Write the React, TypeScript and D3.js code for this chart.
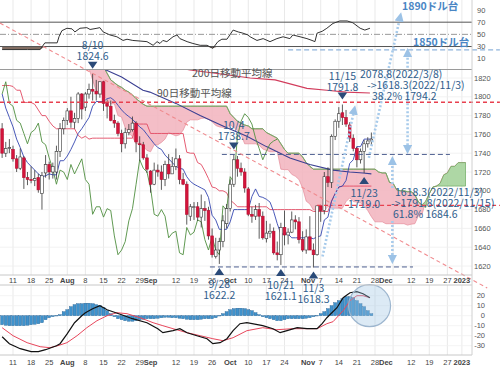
import React from "react";
import * as d3 from "d3";

// trading-day index: 0 = 2022-07-11 (Mon); first bar = idx -3 (2022-07-06)
const FIRST_IDX = -3;

const openP = [1766,1740,1745,1744,1734,1724,1735,1714,1712,1711,1714,1697,1719,1728,1720,1720,1742,1766,1775,1785,1773,1777,1803,1789,1803,1808,1806,1803,1816,1793,1790,1775,1772,1761,1750,1762,1765,1772,1750,1749,1735,1721,1707,1722,1720,1712,1728,1718,1726,1734,1712,1707,1673,1683,1683,1672,1681,1679,1652,1630,1637,1646,1665,1681,1707,1733,1724,1720,1702,1675,1673,1680,1673,1649,1655,1657,1634,1632,1661,1653,1656,1669,1667,1648,1637,1651,1637,1632,1684,1679,1715,1709,1758,1774,1783,1778,1770,1756,1745,1733,1742,1750,1753];
const highP = [1772,1752,1755,1748,1738,1745,1737,1720,1726,1722,1718,1720,1738,1731,1730,1748,1772,1778,1788,1800,1783,1805,1804,1805,1814,1824.6,1818,1816,1817,1797,1796,1781,1774,1765,1767,1771,1779,1774,1758,1752,1739,1722,1730,1728,1727,1732,1739,1736,1745,1738,1719,1710,1686,1688,1688,1696,1689,1683,1660,1650,1650,1674,1686,1712,1738.7,1737,1730,1724,1704,1683,1685,1687,1678,1668,1665,1661,1646,1666,1679,1660,1678,1674,1672,1657,1659,1673,1644,1684,1685,1720,1725,1760,1776,1789,1791.8,1786,1773,1760,1747,1745,1754,1757,1762];
const lowP = [1735,1736,1740,1731,1720,1722,1702,1706,1708,1705,1698,1680,1714,1712,1713,1712,1736,1760,1770,1767,1766,1772,1776,1785,1798,1796,1796,1799,1785,1777,1774,1767,1758,1741,1745,1759,1763,1741,1732,1733,1719,1698,1706,1715,1701,1705,1713,1718,1722,1707,1706,1664,1668,1669,1668,1661,1668,1648,1629,1628,1622.2,1640,1660,1678,1704,1715,1716,1698,1673,1666,1669,1649,1648,1645,1650,1632,1626,1621.1,1642,1643,1655,1659,1644,1635,1633,1638,1618.3,1631,1667,1675,1704,1703,1754,1767,1770,1768,1752,1742,1725,1729,1719,1746,1748];
const closeP = [1740,1745,1746,1734,1724,1736,1714,1712,1711,1713,1701,1716,1728,1720,1726,1742,1766,1775,1785,1773,1777,1803,1787,1803,1808,1806,1803,1816,1793,1790,1775,1772,1761,1750,1762,1765,1772,1752,1749,1735,1723,1707,1722,1720,1712,1728,1718,1726,1734,1712,1707,1675,1683,1683,1672,1681,1679,1652,1632,1637,1646,1668,1681,1707,1733,1724,1720,1703,1675,1673,1680,1673,1650,1655,1657,1634,1632,1661,1653,1656,1669,1667,1648,1637,1651,1637,1632,1684,1679,1715,1709,1758,1774,1782,1778,1771,1756,1745,1733,1742,1750,1753,1755];

// Ichimoku lines (daily, idx -3..99)
const tenkan = [1803,1788,1778,1768,1755,1746,1736,1730,1726,1722,1718,1715,1716,1718,1717,1717,1732,1732,1737,1744,1752,1761,1766,1772,1778,1790,1795,1795,1795,1798,1799,1796,1791,1786,1782,1779,1776,1772,1768,1765,1760,1755,1750,1746,1744,1738,1734,1730,1726,1724,1723,1715,1710,1707,1705,1703,1701,1693,1674,1669,1659,1659,1659,1667,1680,1680,1680,1680,1680,1694,1702,1694,1693,1691,1688,1678,1665,1654,1654,1654,1650,1650,1650,1650,1650,1650,1649,1651,1652,1669,1672,1689,1697,1704,1705,1711,1729,1733,1747,1747,1755,1755,1755];
const kijun = [1812,1812,1812,1811,1807,1807,1794,1794,1794,1792,1786,1780,1780,1774,1769,1766,1766,1766,1766,1766,1766,1759,1756,1758,1755,1756,1756,1756,1756,1756,1756,1756,1756,1756,1756,1756,1756,1771,1771,1771,1771,1761,1761,1761,1761,1761,1761,1761,1761,1761,1761,1741,1740,1740,1730,1728,1721,1713,1704,1703,1700,1700,1698,1690,1687,1683,1683,1683,1683,1683,1683,1683,1683,1683,1680,1680,1680,1680,1680,1680,1680,1680,1680,1680,1680,1680,1678,1678,1678,1678,1678,1689,1697,1704,1705,1705,1705,1705,1705,1705,1705,1705,1705];

// leading spans (idx 20..125)
const SPAN_FIRST = 20;
const spanA = [1834,1830,1818,1806,1803.5,1801,1797,1792.5,1792.5,1780,1778.5,1767,1761.5,1757.5,1750,1750,1747,1743,1741.5,1749,1749,1751.5,1755,1762.5,1760,1758.5,1759.5,1764.5,1773,1775.5,1775.5,1775.5,1777,1777.5,1776,1773.5,1769.5,1768,1767.5,1767.5,1770,1767.5,1764,1760,1750,1750,1750,1750,1748.5,1744.5,1743,1741.5,1741.5,1742,1723,1722.5,1722.5,1717.5,1715.5,1712,1703,1689,1686,1679.5,1679.5,1678.5,1678.5,1683.5,1681.5,1681.5,1681.5,1681.5,1688.5,1692.5,1688.5,1688,1687,1684,1679,1672.5,1667,1667,1667,1665,1665,1665,1665,1665,1665,1663.5,1664.5,1665,1673.5,1675,1689,1697,1704,1705,1708,1717,1719,1726,1726,1730,1730,1730];
const spanB = [1880,1870,1860,1850,1840,1832,1825,1818,1815,1812,1810,1807,1805,1802,1798,1795,1792,1790,1790,1790,1790,1790,1790,1790,1790,1790,1790,1790,1790,1790,1790,1790,1790,1790,1790,1790,1790,1790,1790,1790,1782,1778,1774,1772,1770,1769,1766,1766,1766,1766,1762,1760,1758,1756,1750,1744,1740,1740,1740,1740,1736,1730,1726,1723,1723,1723,1723,1723,1723,1723,1723,1723,1723,1723,1723,1723,1723,1723,1723,1723,1723,1720,1719,1719,1709,1708,1701,1700,1700,1699,1699,1696,1688,1685,1682,1697,1704,1705,1705,1705,1705,1705,1705,1705,1705,1705];
const CHIKOU_SHIFT = 26;

// moving averages read at points
const ma90Idx = [-3, 10, 20, 25.7, 30, 35.9, 37.8, 45, 51.7, 58, 64.6, 70, 76.5, 82, 88.4, 93, 96.7, 99];
const ma90Val = [1878, 1856, 1840, 1828.5, 1821, 1807, 1805, 1793, 1780, 1769, 1758, 1747, 1735, 1728, 1722, 1720, 1719, 1718];
const ma200Idx = [-3, 20, 40, 48.9, 58, 65.5, 72.4, 81.2, 86.7, 92, 98.6];
const ma200Val = [1862, 1848, 1835, 1828.5, 1824, 1820, 1818, 1809, 1807, 1805, 1804];

// RSI
const rsiIdx = [-3,0,4,7.5,8.8,12.2,12.7,13.5,14.9,16.3,17.1,18.5,20.4,21.3,23.2,24,24.9,26.8,28.7,30.4,31.5,33.1,35.1,37,38.7,39.8,40.6,41.4,42.5,44.2,45.3,46.1,48.1,49.7,51.7,53.6,55.2,56.6,57.7,59.1,60.8,62.2,63.5,64.9,65.5,67.4,69.1,71,72.9,74.6,76.5,77.3,79.3,81.2,82.6,83.4,84,85.4,86.7,88.4,90.3,92.3,93.9,95.9,97.2,98.6];
const rsiVal = [25,25,25,25,36,36,46,56,60,59,54,60,61,58,60,61,54,49,46,40,42,40,39,38,32,38,35,40,38,46,49,43,38,35,32,32,27,38,42,42,57,54,52,49,46,40,43,38,43,46,43,49,46,43,40,38,52,55,60,68,72,72,69,60,57,60];

// MACD
const macdIdx = [-3,-1,2,5,7,9,12,13,15,17,19,20,22,24,26,30,33,37,40,41.4,44.2,46.1,48.1,50.8,53.6,55.2,57.2,59.1,60.8,62.7,64.6,69,71.8,73.8,75.7,78.5,81.2,84,85.4,86.7,89.5,91.2,93.1,95,96.7,98.6];
const macdVal = [-21,-28,-33,-36,-36,-34,-30,-28,-18,-7,0,3,7,10,6,1,-3,-7,-13,-17,-15,-13,-17,-20,-23,-28,-27,-23,-15,-8,-7,-10,-13,-17,-15,-12,-13,-13,-8,-2,8,18,23,24,22,18];
const sigIdx = [-3,0,3.9,7.5,10.2,12.4,14.9,17.7,20.4,23.2,26,28.7,31.5,35.1,38.7,41.4,44.2,48.1,51.7,55.2,58,60.8,64.6,69,72.9,77.3,84,86.7,88.4,91.2,93.1,95,96.7,98.6];
const sigVal = [-12,-20,-27,-31,-32,-30,-27,-20,-12,-5,0,3,2,-2,-7,-10,-13,-17,-20,-23,-25,-22,-15,-12,-14,-13,-13,-8,-6,5,15,20,20,18];
const histVal = [-9,-9.5,-10,-10,-10,-10,-10,-9.5,-9,-8.5,-8,-7,-4,-2,-1,0,1,4,6,9,11,12,12,12.5,12.5,12,11,10,8,5,2,-1,-3,-4,-5,-5.5,-5.5,-5,-4,-3.5,-3,-3,-3,-2.5,-2,-1.5,-1.5,-2,-2,-2.5,-3,-3.5,-4,-4,-4,-3.5,-3,-3,-3,-2,0,2,4,6,7,7.5,7.5,7,6,5,3,1,-1,-2,-3,-4,-5,-5,-4,-3,-3,-3,-3,-3,-2.5,-2,-1,0,2,4,7,10,13,15,17,19,19,18,15,12,9,5,2];

// axis
const tickIdx = [0,5,10,15,20,25,30,35,38,45,50,55,60,65,70,75,81.5,85,90,95,100,103,110,115,120,124];
const tickLabels = ["11","18","25","Aug","8","15","22","29","Sep","12","19","26","Oct","10","17","24","Nov","7","14","21","28","Dec","12","19","27","2023"];
const tickBold = [false,false,false,true,false,false,false,false,true,false,false,false,true,false,false,false,true,false,false,false,false,true,false,false,false,true];
const gridIdx = [0,5,10,15,20,25,30,35,40,45,50,55,60,65,70,75,80,85,90,95,100,105,110,115,120,124];
const priceTicks = [1620,1640,1660,1680,1700,1720,1740,1760,1780,1800,1820];
const rsiTicks = [90,70,50,30,10];
const macdTicks = [20,10,0,-10,-20,-30];

// annotations
const highMarks = [
  { idx: 22, price: 1824.6, l1: "8/10", l2: "1824.6" },
  { idx: 61, price: 1738.7, l1: "10/4", l2: "1738.7" },
  { idx: 91, price: 1791.8, l1: "11/15", l2: "1791.8" },
];
const lowMarks = [
  { idx: 57, price: 1622.2, l1: "9/28", l2: "1622.2" },
  { idx: 74, price: 1621.1, l1: "10/21", l2: "1621.1" },
  { idx: 83, price: 1618.3, l1: "11/3", l2: "1618.3" },
  { idx: 97, price: 1719.0, l1: "11/23", l2: "1719.0" },
];
const levelLines = [
  { price: 1794.2, from: -3.6, to: 134.5, color: "#e8404f", dash: "4,3", w: 1.3 },
  { price: 1684.6, from: 84, to: 134.5, color: "#e8404f", dash: "4,3", w: 1.3 },
  { price: 1738.7, from: 57.7, to: 120.7, color: "#4d5f8f", dash: "5,3", w: 1 },
  { price: 1619.0, from: 54.4, to: 110.5, color: "#4d5f8f", dash: "5,3", w: 1 },
  { price: 1850, from: 76, to: 134.5, color: "#8fb4dc", dash: "5,3", w: 1.2 },
];
const trendFrom = [-3.6, 1878.5];
const trendTo = [131, 1596.6];
const arrows = [
  { from: [98.3, 1735], to: [107, 1886] },
  { from: [109, 1831], to: [109, 1848] },
  { from: [109, 1806], to: [109, 1743] },
  { from: [85.5, 1630], to: [94.3, 1787] },
  { from: [104.8, 1703], to: [104.8, 1733] },
  { from: [104.8, 1668], to: [104.8, 1626] },
];

const fontAxis = "'Liberation Sans', Arial, sans-serif";
const fontJP = "'Noto Sans CJK JP', 'Noto Sans', sans-serif";
const annColor = "#2f5d8c";

export default function App() {
  const xs = d3.scaleLinear().domain([0, 100]).range([13, 375]);
  const yP = d3.scaleLinear().domain([1620, 1820]).range([266, 78]);
  const yR = d3.scaleLinear().domain([10, 90]).range([58.7, 10]);
  const yM = d3.scaleLinear().domain([-30, 20]).range([345.7, 295.7]);

  const PR = 472;
  const main = { top: 69.5, bottom: 275 };
  const macdP = { top: 285, bottom: 355 };

  const lineP = d3.line<[number, number]>().x((d) => xs(d[0])).y((d) => yP(d[1]));
  const lineR = d3.line<[number, number]>().x((d) => xs(d[0])).y((d) => yR(d[1]));
  const lineM = d3.line<[number, number]>().x((d) => xs(d[0])).y((d) => yM(d[1]));

  const candles = openP.map((o, k) => ({ i: FIRST_IDX + k, o, h: highP[k], l: lowP[k], c: closeP[k] }));
  const spans = spanA.map((a, k) => ({ i: SPAN_FIRST + k, a, b: spanB[k] }));

  const pinkArea = d3.area<{ i: number; a: number; b: number }>()
    .x((d) => xs(d.i)).y0((d) => yP(d.a)).y1((d) => yP(Math.max(d.a, d.b)));
  const greenArea = d3.area<{ i: number; a: number; b: number }>()
    .x((d) => xs(d.i)).y0((d) => yP(d.b)).y1((d) => yP(Math.max(d.a, d.b)));

  const tenkanPts = tenkan.map((v, k) => [FIRST_IDX + k, v] as [number, number]);
  const kijunPts = kijun.map((v, k) => [FIRST_IDX + k, v] as [number, number]);
  const chikouPts = closeP
    .map((v, k) => [FIRST_IDX + k - CHIKOU_SHIFT, v] as [number, number])
    .filter((d) => d[0] >= FIRST_IDX);
  const ma90Pts = ma90Idx.map((v, k) => [v, ma90Val[k]] as [number, number]);
  const ma200Pts = ma200Idx.map((v, k) => [v, ma200Val[k]] as [number, number]);
  const rsiPts = rsiIdx.map((v, k) => [v, rsiVal[k]] as [number, number]);
  const macdPts = macdIdx.map((v, k) => [v, macdVal[k]] as [number, number]);
  const sigPts = sigIdx.map((v, k) => [v, sigVal[k]] as [number, number]);

  const rsiFill = d3.area<[number, number]>()
    .x((d) => xs(d[0])).y0(() => yR(30)).y1((d) => yR(Math.min(30, d[1])));

  const xAxisLabels = (y: number, keyp: string) =>
    tickIdx.map((t, k) => (
      <text key={keyp + k} x={xs(t)} y={y} fontSize={7.5} fontFamily={fontAxis}
        fontWeight={tickBold[k] ? "bold" : "normal"} fill="#444" textAnchor="middle">
        {tickLabels[k]}
      </text>
    ));

  return (
    <div style={{ position: "absolute", left: 0, top: 0 }}>
      <svg width={500} height={368} viewBox="0 0 500 368" style={{ display: "block", background: "#fff" }}>
        <defs>
          <clipPath id="cMain"><rect x={0} y={main.top} width={PR} height={main.bottom - main.top} /></clipPath>
          <clipPath id="cRsi"><rect x={0} y={0} width={PR} height={69} /></clipPath>
          <clipPath id="cMacd"><rect x={0} y={macdP.top} width={PR} height={macdP.bottom - macdP.top} /></clipPath>
          <marker id="ah" viewBox="0 0 10 10" refX={6} refY={5} markerWidth={3.6} markerHeight={3.6} orient="auto">
            <path d="M0,0 L10,5 L0,10 z" fill="#9cc2e6" />
          </marker>
        </defs>
        <rect x={0} y={0} width={500} height={368} fill="#fff" />

        {/* vertical grid */}
        {gridIdx.map((g, k) => (
          <g key={"g" + k} stroke="#e3e3e3" strokeWidth={0.8}>
            <line x1={xs(g)} x2={xs(g)} y1={0} y2={69} />
            <line x1={xs(g)} x2={xs(g)} y1={main.top} y2={main.bottom} />
            <line x1={xs(g)} x2={xs(g)} y1={macdP.top} y2={macdP.bottom} />
          </g>
        ))}
        {priceTicks.map((p) => (
          <line key={"hp" + p} x1={0} x2={PR} y1={yP(p)} y2={yP(p)} stroke="#efefef" strokeWidth={0.8} />
        ))}
        {macdTicks.map((m) => (
          <line key={"hm" + m} x1={0} x2={PR} y1={yM(m)} y2={yM(m)} stroke="#f0f0f0" strokeWidth={0.8} />
        ))}

        {/* RSI panel */}
        <g clipPath="url(#cRsi)">
          <path d={rsiFill(rsiPts) || ""} fill="#6e5548" opacity={0.85} />
          <line x1={0} x2={PR} y1={yR(70)} y2={yR(70)} stroke="#555" strokeWidth={1} />
          <line x1={0} x2={PR} y1={yR(30)} y2={yR(30)} stroke="#555" strokeWidth={1} />
          <line x1={0} x2={PR} y1={yR(50)} y2={yR(50)} stroke="#999" strokeWidth={1} strokeDasharray="6,2,1,2" />
          <path d={lineR(rsiPts) || ""} fill="none" stroke="#333" strokeWidth={1} />
        </g>

        {/* main panel */}
        <g clipPath="url(#cMain)">
          <path d={pinkArea(spans) || ""} fill="#f2b3bd" fillOpacity={0.85} stroke="#e58d9b" strokeWidth={0.7} />
          <path d={greenArea(spans) || ""} fill="#a5d39b" fillOpacity={0.9} stroke="#6aa95f" strokeWidth={0.7} />
          <path d={lineP(ma200Pts) || ""} fill="none" stroke="#d23c5c" strokeWidth={1.1} />
          <path d={lineP(ma90Pts) || ""} fill="none" stroke="#3a3f92" strokeWidth={1.1} />
          <path d={lineP(kijunPts) || ""} fill="none" stroke="#e24a62" strokeWidth={0.9} />
          <path d={lineP(chikouPts) || ""} fill="none" stroke="#4f8f3f" strokeWidth={0.9} />
          <path d={lineP(tenkanPts) || ""} fill="none" stroke="#3446b0" strokeWidth={0.9} />
          {candles.map((d) => {
            const cx = xs(d.i);
            const up = d.c >= d.o;
            const yt = yP(Math.max(d.o, d.c));
            const yb = yP(Math.min(d.o, d.c));
            return (
              <g key={"c" + d.i}>
                <line x1={cx} x2={cx} y1={yP(d.h)} y2={yP(d.l)} stroke="#333" strokeWidth={0.8} />
                <rect x={cx - 1.35} y={yt} width={2.7} height={Math.max(0.9, yb - yt)}
                  fill={up ? "#fff" : "#d4143b"} stroke={up ? "#333" : "#b30f30"} strokeWidth={0.6} />
              </g>
            );
          })}
        </g>

        {/* level lines and trend line */}
        {levelLines.map((l, k) => (
          <line key={"lv" + k} x1={Math.max(0, xs(l.from))} x2={Math.min(500, xs(l.to))} y1={yP(l.price)} y2={yP(l.price)}
            stroke={l.color} strokeWidth={l.w} strokeDasharray={l.dash} />
        ))}
        <line x1={xs(trendFrom[0])} y1={yP(trendFrom[1])} x2={xs(trendTo[0])} y2={yP(trendTo[1])}
          stroke="#f08a8e" strokeWidth={1.1} strokeDasharray="4,3" />

        {/* MACD panel */}
        <g clipPath="url(#cMacd)">
          {histVal.map((v, k) => {
            const i = FIRST_IDX + k;
            const y0 = yM(0), y1 = yM(v);
            return (
              <rect key={"h" + k} x={xs(i) - 1.5} width={3} y={Math.min(y0, y1)} height={Math.max(0.3, Math.abs(y1 - y0))}
                fill="#3f92cc" stroke="#245f92" strokeWidth={0.4} />
            );
          })}
          <path d={lineM(sigPts) || ""} fill="none" stroke="#e8475c" strokeWidth={1} />
          <path d={lineM(macdPts) || ""} fill="none" stroke="#111" strokeWidth={1.2} />
        </g>
        <circle cx={xs(98.5)} cy={yM(10)} r={21} fill="#9cc3e3" fillOpacity={0.35} stroke="#9db6cf" strokeWidth={1.2} />

        {/* panel borders */}
        <line x1={0} x2={PR} y1={69.5} y2={69.5} stroke="#9a9a9a" strokeWidth={1} />
        <line x1={0} x2={PR} y1={main.bottom} y2={main.bottom} stroke="#c8c8c8" strokeWidth={1} />
        <line x1={0} x2={PR} y1={macdP.top} y2={macdP.top} stroke="#c8c8c8" strokeWidth={1} />
        <line x1={0} x2={PR} y1={macdP.bottom} y2={macdP.bottom} stroke="#c8c8c8" strokeWidth={1} />
        <line x1={PR} x2={PR} y1={0} y2={macdP.bottom} stroke="#d0d0d0" strokeWidth={1} />

        {/* axes labels */}
        {priceTicks.map((p) => (
          <text key={"pt" + p} x={474} y={yP(p) + 2.6} fontSize={7.5} fontFamily={fontAxis} fill="#555">{p}</text>
        ))}
        {rsiTicks.map((r) => (
          <text key={"rt" + r} x={477} y={yR(r) + 2.6} fontSize={7.5} fontFamily={fontAxis} fill="#555">{r}</text>
        ))}
        {macdTicks.map((m) => (
          <text key={"mt" + m} x={485} y={yM(m) + 2.6} fontSize={7.5} fontFamily={fontAxis} fill="#555" textAnchor="end">{m}</text>
        ))}
        {xAxisLabels(282.8, "xa")}
        {xAxisLabels(364.8, "xb")}

        {/* MA labels */}
        <text x={192} y={77} fontSize={10.5} fontFamily={fontJP} fill="#555">200日移動平均線</text>
        <text x={157} y={97} fontSize={10.5} fontFamily={fontJP} fill="#555">90日移動平均線</text>

        {/* arrows */}
        {arrows.map((a, k) => (
          <line key={"ar" + k} x1={xs(a.from[0])} y1={yP(a.from[1])} x2={xs(a.to[0])} y2={yP(a.to[1])}
            stroke="#a8cbeb" strokeWidth={2.6} strokeDasharray="2,2" markerEnd="url(#ah)" />
        ))}

        {/* high / low marks */}
        {highMarks.map((m, k) => {
          const cx = xs(m.idx);
          const tip = yP(m.price) - 5;
          const top = tip - 7;
          return (
            <g key={"hm" + k} fontFamily={fontJP} fontSize={10.5} fill={annColor} textAnchor="middle">
              <path d={`M${cx - 4.8},${top} L${cx + 4.8},${top} L${cx},${tip} Z`} fill="#2a4a78" />
              <text x={cx} y={top - 13}>{m.l1}</text>
              <text x={cx} y={top - 2}>{m.l2}</text>
            </g>
          );
        })}
        {lowMarks.map((m, k) => {
          const cx = xs(m.idx);
          const top = yP(m.price) + 4;
          return (
            <g key={"lm" + k} fontFamily={fontJP} fontSize={10.5} fill={annColor} textAnchor="middle">
              <path d={`M${cx - 4.8},${top + 7} L${cx + 4.8},${top + 7} L${cx},${top} Z`} fill="#2a4a78" />
              <text x={cx} y={top + 20}>{m.l1}</text>
              <text x={cx} y={top + 31}>{m.l2}</text>
            </g>
          );
        })}

        {/* retracement texts */}
        <g fontFamily={fontJP} fontSize={10.5} fill={annColor}>
          <text x={360} y={78}>2078.8(2022/3/8)</text>
          <text x={367} y={89}>-&gt;1618.3(2022/11/3)</text>
          <text x={372} y={100}>38.2% 1794.2</text>
          <text x={395} y={196}>1618.3(2022/11/3)</text>
          <text x={391} y={207}>-&gt;1791.8(2022/11/15)</text>
          <text x={393} y={218}>61.8% 1684.6</text>
        </g>
        <g fontFamily={fontJP} fontSize={10.5} fill="#4a86c4" fontWeight="bold">
          <text x={402} y={10}>1890ドル台</text>
          <text x={413} y={46}>1850ドル台</text>
        </g>
      </svg>
    </div>
  );
}
